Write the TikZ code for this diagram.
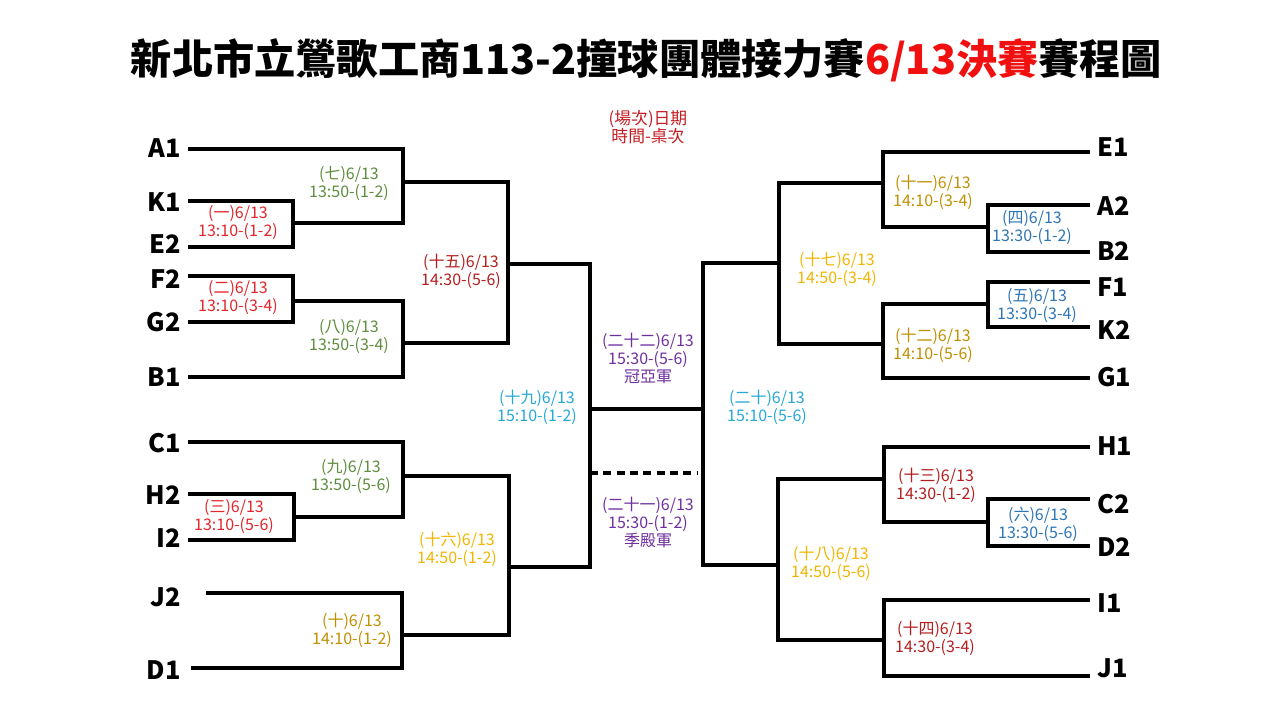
\documentclass[tikz,border=0pt]{standalone}
\usepackage{fontspec}
\setmainfont{Noto Sans CJK TC}
\definecolor{cred}{HTML}{E2262B}
\definecolor{cdred}{HTML}{B41E1E}
\definecolor{cleg}{HTML}{C41E24}
\definecolor{cgreen}{HTML}{5E8D3E}
\definecolor{cdgold}{HTML}{BF9000}
\definecolor{cgold}{HTML}{F2B600}
\definecolor{ccyan}{HTML}{27A9D6}
\definecolor{cblue}{HTML}{2E75B6}
\definecolor{cpurple}{HTML}{7030A0}
\definecolor{ctitle}{HTML}{F01010}
\begin{document}
\begin{tikzpicture}[x=0.75pt,y=-0.75pt,
  br/.style={line width=3pt,black},
  lab/.style={align=center,inner sep=0pt,font=\fontsize{12}{13.5}\selectfont},
  teamL/.style={anchor=east,inner sep=0pt,font=\fontsize{19}{21}\selectfont\bfseries},
  teamR/.style={anchor=west,inner sep=0pt,font=\fontsize{19}{21}\selectfont\bfseries}]
\fill[white] (0,0) rectangle (1280,720);
\useasboundingbox (0,0) rectangle (1280,720);
% title
\node[inner sep=0pt,font=\fontsize{30.9}{34}\selectfont\bfseries] (title) at (646.5,60) {新北市立鶯歌工商113-2撞球團體接力賽\textcolor{ctitle}{6/13決賽}賽程圖};
\node[lab,text=cleg,font=\fontsize{12.6}{14}\selectfont] (legend) at (648,127) {(場次)日期\\時間-桌次};
% team names left
\node[teamL] (A1) at (181,148) {A1};
\node[teamL] (K1) at (181,202) {K1};
\node[teamL] (E2) at (181,244) {E2};
\node[teamL] (F2) at (181,279) {F2};
\node[teamL] (G2) at (181,322) {G2};
\node[teamL] (B1) at (181,377) {B1};
\node[teamL] (C1) at (181,443) {C1};
\node[teamL] (H2) at (181,495) {H2};
\node[teamL] (I2) at (181,538) {I2};
\node[teamL] (J2) at (181,597) {J2};
\node[teamL] (D1) at (181,670) {D1};
% team names right
\node[teamR] (E1) at (1097,147) {E1};
\node[teamR] (A2) at (1097,206) {A2};
\node[teamR] (B2) at (1097,251) {B2};
\node[teamR] (F1) at (1097,287) {F1};
\node[teamR] (K2) at (1097,330) {K2};
\node[teamR] (G1) at (1097,377) {G1};
\node[teamR] (H1) at (1097,446) {H1};
\node[teamR] (C2) at (1097,504) {C2};
\node[teamR] (D2) at (1097,547) {D2};
\node[teamR] (I1) at (1097,603) {I1};
\node[teamR] (J1) at (1097,668) {J1};
% line start points
\coordinate (a1) at (188,149);
\coordinate (k1) at (188,201);
\coordinate (e2) at (188,247);
\coordinate (f2) at (188,276);
\coordinate (g2) at (188,322);
\coordinate (b1) at (188,377);
\coordinate (c1) at (188,442);
\coordinate (h2) at (188,494);
\coordinate (i2) at (188,540);
\coordinate (j2) at (206,593);
\coordinate (d1) at (191,668);
\coordinate (e1) at (1090,152);
\coordinate (a2) at (1090,205);
\coordinate (b2) at (1090,252);
\coordinate (f1) at (1090,282);
\coordinate (k2) at (1090,327);
\coordinate (g1) at (1090,378);
\coordinate (h1) at (1090,447);
\coordinate (c2) at (1090,499);
\coordinate (d2) at (1090,546);
\coordinate (i1) at (1090,600);
\coordinate (j1) at (1090,676);
% match points
\coordinate (m1) at (293,223);
\coordinate (m7) at (403,182);
\coordinate (m2) at (293,301);
\coordinate (m8) at (403,343);
\coordinate (m15) at (508,264);
\coordinate (m3) at (294,517);
\coordinate (m9) at (403,476);
\coordinate (m10) at (402,635);
\coordinate (m16) at (509,567);
\coordinate (m19) at (590,409);
\coordinate (m20) at (703,409);
\coordinate (m17) at (779,263);
\coordinate (m11) at (883,183);
\coordinate (m4) at (988,227);
\coordinate (m12) at (883,344);
\coordinate (m5) at (988,304);
\coordinate (m18) at (778,565);
\coordinate (m13) at (884,479);
\coordinate (m6) at (988,522);
\coordinate (m14) at (884,640);
\coordinate (q1) at (590,473);
\coordinate (q2) at (697,473);
% left brackets
\draw[br] (k1) -| (m1) |- (e2);
\draw[br] (a1) -| (m7) |- (m1);
\draw[br] (f2) -| (m2) |- (g2);
\draw[br] (m2) -| (m8) |- (b1);
\draw[br] (m7) -| (m15) |- (m8);
\draw[br] (h2) -| (m3) |- (i2);
\draw[br] (c1) -| (m9) |- (m3);
\draw[br] (j2) -| (m10) |- (d1);
\draw[br] (m9) -| (m16) |- (m10);
\draw[br] (m15) -| (m19) |- (m16);
% final
\draw[br] (m19) -- (m20);
\draw[br,dash pattern=on 6pt off 4pt] (q1) -- (q2);
% right brackets
\draw[br] (m17) -| (m20) |- (m18);
\draw[br] (m11) -| (m17) |- (m12);
\draw[br] (e1) -| (m11) |- (m4);
\draw[br] (a2) -| (m4) |- (b2);
\draw[br] (m5) -| (m12) |- (g1);
\draw[br] (f1) -| (m5) |- (k2);
\draw[br] (m13) -| (m18) |- (m14);
\draw[br] (h1) -| (m13) |- (m6);
\draw[br] (c2) -| (m6) |- (d2);
\draw[br] (i1) -| (m14) |- (j1);
% match labels
\node[lab,text=cred] (L1) at (238,223) {(一)6/13\\13:10-(1-2)};
\node[lab,text=cred] (L2) at (238,298) {(二)6/13\\13:10-(3-4)};
\node[lab,text=cred] (L3) at (234,517) {(三)6/13\\13:10-(5-6)};
\node[lab,text=cblue] (L4) at (1032,228) {(四)6/13\\13:30-(1-2)};
\node[lab,text=cblue] (L5) at (1037,306) {(五)6/13\\13:30-(3-4)};
\node[lab,text=cblue] (L6) at (1038,524) {(六)6/13\\13:30-(5-6)};
\node[lab,text=cgreen] (L7) at (349,184) {(七)6/13\\13:50-(1-2)};
\node[lab,text=cgreen] (L8) at (349,337) {(八)6/13\\13:50-(3-4)};
\node[lab,text=cgreen] (L9) at (351,476) {(九)6/13\\13:50-(5-6)};
\node[lab,text=cdgold] (L10) at (352,630) {(十)6/13\\14:10-(1-2)};
\node[lab,text=cdgold] (L11) at (933,192) {(十一)6/13\\14:10-(3-4)};
\node[lab,text=cdgold] (L12) at (933,345) {(十二)6/13\\14:10-(5-6)};
\node[lab,text=cdred] (L13) at (936,485) {(十三)6/13\\14:30-(1-2)};
\node[lab,text=cdred] (L14) at (935,638) {(十四)6/13\\14:30-(3-4)};
\node[lab,text=cdred] (L15) at (461,271) {(十五)6/13\\14:30-(5-6)};
\node[lab,text=cgold] (L16) at (457,549) {(十六)6/13\\14:50-(1-2)};
\node[lab,text=cgold] (L17) at (837,269) {(十七)6/13\\14:50-(3-4)};
\node[lab,text=cgold] (L18) at (831,563) {(十八)6/13\\14:50-(5-6)};
\node[lab,text=ccyan] (L19) at (537,407) {(十九)6/13\\15:10-(1-2)};
\node[lab,text=ccyan] (L20) at (767,407) {(二十)6/13\\15:10-(5-6)};
\node[lab,text=cpurple] (L21) at (648,522) {(二十一)6/13\\15:30-(1-2)\\季殿軍};
\node[lab,text=cpurple] (L22) at (648,358) {(二十二)6/13\\15:30-(5-6)\\冠亞軍};
\end{tikzpicture}
\end{document}
